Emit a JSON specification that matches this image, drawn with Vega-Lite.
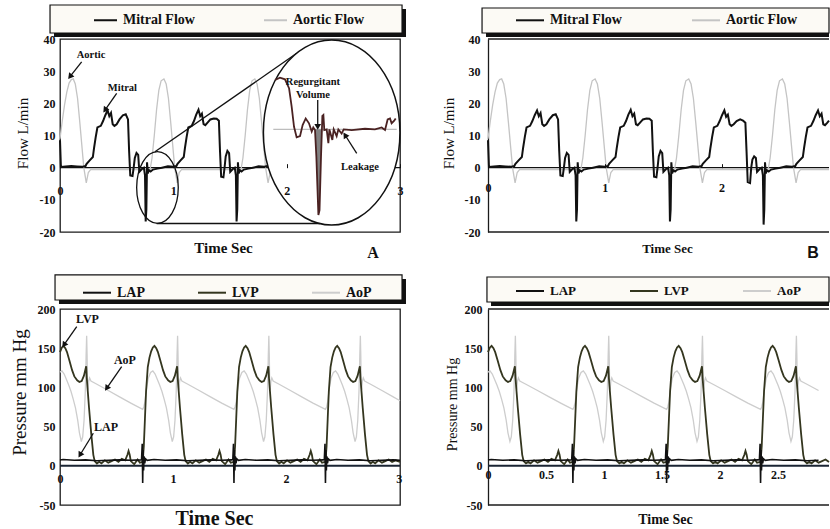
{
"$schema": "https://vega.github.io/schema/vega-lite/v6.json",
"autosize": {"type": "none"},
"padding": {"left": 60, "top": 39, "right": 770, "bottom": 490},
"background": "white",
"columns": 2,
"spacing": {"row": 77, "column": 88},
"bounds": "flush",
"resolve": {"scale": {"color": "independent"}, "legend": {"color": "independent"}},
"datasets": {
"one": [{}],
"flow": [
{"s":"Aortic Flow","t":0,"v":9},{"s":"Aortic Flow","t":0.02,"v":14.5},{"s":"Aortic Flow","t":0.04,"v":19.5},{"s":"Aortic Flow","t":0.06,"v":23.5},{"s":"Aortic Flow","t":0.08,"v":26.3},{"s":"Aortic Flow","t":0.1,"v":27.4},{"s":"Aortic Flow","t":0.117,"v":27.6},{"s":"Aortic Flow","t":0.135,"v":26},{"s":"Aortic Flow","t":0.155,"v":21.5},{"s":"Aortic Flow","t":0.175,"v":14},{"s":"Aortic Flow","t":0.195,"v":6},{"s":"Aortic Flow","t":0.21,"v":0},{"s":"Aortic Flow","t":0.232,"v":-4.7},{"s":"Aortic Flow","t":0.25,"v":-1.5},{"s":"Aortic Flow","t":0.27,"v":-0.6},{"s":"Aortic Flow","t":0.795,"v":-0.6},
{"s":"Aortic Flow","t":0.812,"v":3},{"s":"Aortic Flow","t":0.832,"v":10},{"s":"Aortic Flow","t":0.852,"v":18},{"s":"Aortic Flow","t":0.872,"v":24},{"s":"Aortic Flow","t":0.892,"v":27},{"s":"Aortic Flow","t":0.917,"v":27.6},{"s":"Aortic Flow","t":0.937,"v":26},{"s":"Aortic Flow","t":0.957,"v":21.5},{"s":"Aortic Flow","t":0.977,"v":14},{"s":"Aortic Flow","t":0.997,"v":6},{"s":"Aortic Flow","t":1.012,"v":0},{"s":"Aortic Flow","t":1.034,"v":-4.7},{"s":"Aortic Flow","t":1.052,"v":-1.5},{"s":"Aortic Flow","t":1.072,"v":-0.6},{"s":"Aortic Flow","t":1.597,"v":-0.6},
{"s":"Aortic Flow","t":1.614,"v":3},{"s":"Aortic Flow","t":1.634,"v":10},{"s":"Aortic Flow","t":1.654,"v":18},{"s":"Aortic Flow","t":1.674,"v":24},{"s":"Aortic Flow","t":1.694,"v":27},{"s":"Aortic Flow","t":1.719,"v":27.6},{"s":"Aortic Flow","t":1.739,"v":26},{"s":"Aortic Flow","t":1.759,"v":21.5},{"s":"Aortic Flow","t":1.779,"v":14},{"s":"Aortic Flow","t":1.799,"v":6},{"s":"Aortic Flow","t":1.814,"v":0},{"s":"Aortic Flow","t":1.836,"v":-4.7},{"s":"Aortic Flow","t":1.854,"v":-1.5},{"s":"Aortic Flow","t":1.874,"v":-0.6},{"s":"Aortic Flow","t":2.399,"v":-0.6},
{"s":"Aortic Flow","t":2.416,"v":3},{"s":"Aortic Flow","t":2.436,"v":10},{"s":"Aortic Flow","t":2.456,"v":18},{"s":"Aortic Flow","t":2.476,"v":24},{"s":"Aortic Flow","t":2.496,"v":27},{"s":"Aortic Flow","t":2.521,"v":27.6},{"s":"Aortic Flow","t":2.541,"v":26},{"s":"Aortic Flow","t":2.561,"v":21.5},{"s":"Aortic Flow","t":2.581,"v":14},{"s":"Aortic Flow","t":2.601,"v":6},{"s":"Aortic Flow","t":2.616,"v":0},{"s":"Aortic Flow","t":2.638,"v":-4.7},{"s":"Aortic Flow","t":2.656,"v":-1.5},{"s":"Aortic Flow","t":2.676,"v":-0.6},{"s":"Aortic Flow","t":2.92,"v":-0.6},
{"s":"Mitral Flow","t":0,"v":8.5},{"s":"Mitral Flow","t":0.008,"v":0.2},{"s":"Mitral Flow","t":0.05,"v":0.4},{"s":"Mitral Flow","t":0.1,"v":0.5},{"s":"Mitral Flow","t":0.15,"v":0.4},{"s":"Mitral Flow","t":0.2,"v":0.3},{"s":"Mitral Flow","t":0.225,"v":0.5},{"s":"Mitral Flow","t":0.235,"v":1.2},{"s":"Mitral Flow","t":0.26,"v":2.2},{"s":"Mitral Flow","t":0.29,"v":3.3},{"s":"Mitral Flow","t":0.3,"v":6},{"s":"Mitral Flow","t":0.315,"v":9.5},{"s":"Mitral Flow","t":0.33,"v":12.5},{"s":"Mitral Flow","t":0.36,"v":13},{"s":"Mitral Flow","t":0.38,"v":14.5},{"s":"Mitral Flow","t":0.4,"v":16.3},{"s":"Mitral Flow","t":0.42,"v":17.8},{"s":"Mitral Flow","t":0.435,"v":16},{"s":"Mitral Flow","t":0.45,"v":17},{"s":"Mitral Flow","t":0.465,"v":13.5},{"s":"Mitral Flow","t":0.48,"v":13},{"s":"Mitral Flow","t":0.5,"v":13.5},{"s":"Mitral Flow","t":0.525,"v":15},{"s":"Mitral Flow","t":0.555,"v":16.3},{"s":"Mitral Flow","t":0.58,"v":16.6},{"s":"Mitral Flow","t":0.6,"v":15},{"s":"Mitral Flow","t":0.61,"v":5},{"s":"Mitral Flow","t":0.62,"v":-2.4},{"s":"Mitral Flow","t":0.64,"v":-2.6},{"s":"Mitral Flow","t":0.65,"v":0},{"s":"Mitral Flow","t":0.66,"v":3},{"s":"Mitral Flow","t":0.675,"v":4.6},{"s":"Mitral Flow","t":0.69,"v":4},{"s":"Mitral Flow","t":0.7,"v":-1.3},{"s":"Mitral Flow","t":0.72,"v":-0.5},{"s":"Mitral Flow","t":0.74,"v":0},{"s":"Mitral Flow","t":0.75,"v":-2.4},{"s":"Mitral Flow","t":0.756,"v":-16.7},{"s":"Mitral Flow","t":0.762,"v":-13},{"s":"Mitral Flow","t":0.768,"v":1.7},{"s":"Mitral Flow","t":0.775,"v":-1.8},{"s":"Mitral Flow","t":0.785,"v":-0.8},{"s":"Mitral Flow","t":0.8,"v":-1.2},{"s":"Mitral Flow","t":0.82,"v":-0.6},{"s":"Mitral Flow","t":0.86,"v":-0.3},{"s":"Mitral Flow","t":0.9,"v":0},{"s":"Mitral Flow","t":0.952,"v":0.4},{"s":"Mitral Flow","t":1.002,"v":0.3},
{"s":"Mitral Flow","t":1.027,"v":0.5},{"s":"Mitral Flow","t":1.037,"v":1.2},{"s":"Mitral Flow","t":1.062,"v":2.2},{"s":"Mitral Flow","t":1.092,"v":3.3},{"s":"Mitral Flow","t":1.102,"v":6},{"s":"Mitral Flow","t":1.117,"v":9.5},{"s":"Mitral Flow","t":1.132,"v":12.5},{"s":"Mitral Flow","t":1.162,"v":13},{"s":"Mitral Flow","t":1.182,"v":14.5},{"s":"Mitral Flow","t":1.202,"v":16.5},{"s":"Mitral Flow","t":1.222,"v":18},{"s":"Mitral Flow","t":1.237,"v":16},{"s":"Mitral Flow","t":1.252,"v":16.8},{"s":"Mitral Flow","t":1.267,"v":13.5},{"s":"Mitral Flow","t":1.282,"v":13.2},{"s":"Mitral Flow","t":1.302,"v":14},{"s":"Mitral Flow","t":1.327,"v":15},{"s":"Mitral Flow","t":1.357,"v":15.3},{"s":"Mitral Flow","t":1.382,"v":15.2},{"s":"Mitral Flow","t":1.402,"v":14.6},{"s":"Mitral Flow","t":1.412,"v":5},{"s":"Mitral Flow","t":1.422,"v":-2.8},{"s":"Mitral Flow","t":1.442,"v":-3},{"s":"Mitral Flow","t":1.452,"v":0},{"s":"Mitral Flow","t":1.462,"v":3.5},{"s":"Mitral Flow","t":1.477,"v":5.2},{"s":"Mitral Flow","t":1.492,"v":4.5},{"s":"Mitral Flow","t":1.502,"v":-1.3},{"s":"Mitral Flow","t":1.522,"v":-0.5},{"s":"Mitral Flow","t":1.542,"v":0},{"s":"Mitral Flow","t":1.552,"v":-2.4},{"s":"Mitral Flow","t":1.558,"v":-16.7},{"s":"Mitral Flow","t":1.564,"v":-13},{"s":"Mitral Flow","t":1.57,"v":1.7},{"s":"Mitral Flow","t":1.577,"v":-1.8},{"s":"Mitral Flow","t":1.587,"v":-0.8},{"s":"Mitral Flow","t":1.602,"v":-1.2},{"s":"Mitral Flow","t":1.622,"v":-0.6},{"s":"Mitral Flow","t":1.662,"v":-0.3},{"s":"Mitral Flow","t":1.702,"v":0},{"s":"Mitral Flow","t":1.752,"v":0.4},{"s":"Mitral Flow","t":1.802,"v":0.3},
{"s":"Mitral Flow","t":1.829,"v":0.5},{"s":"Mitral Flow","t":1.839,"v":1.2},{"s":"Mitral Flow","t":1.864,"v":2.2},{"s":"Mitral Flow","t":1.894,"v":3.3},{"s":"Mitral Flow","t":1.904,"v":6},{"s":"Mitral Flow","t":1.919,"v":9.5},{"s":"Mitral Flow","t":1.934,"v":12.5},{"s":"Mitral Flow","t":1.964,"v":13},{"s":"Mitral Flow","t":1.984,"v":14.5},{"s":"Mitral Flow","t":2.004,"v":16.3},{"s":"Mitral Flow","t":2.024,"v":17.8},{"s":"Mitral Flow","t":2.039,"v":15.8},{"s":"Mitral Flow","t":2.054,"v":16.5},{"s":"Mitral Flow","t":2.069,"v":13.5},{"s":"Mitral Flow","t":2.084,"v":13},{"s":"Mitral Flow","t":2.104,"v":13.5},{"s":"Mitral Flow","t":2.129,"v":14.5},{"s":"Mitral Flow","t":2.159,"v":15},{"s":"Mitral Flow","t":2.184,"v":14.6},{"s":"Mitral Flow","t":2.204,"v":14},{"s":"Mitral Flow","t":2.214,"v":5},{"s":"Mitral Flow","t":2.224,"v":-4.5},{"s":"Mitral Flow","t":2.244,"v":-4.8},{"s":"Mitral Flow","t":2.254,"v":0},{"s":"Mitral Flow","t":2.264,"v":2.5},{"s":"Mitral Flow","t":2.279,"v":3.5},{"s":"Mitral Flow","t":2.294,"v":3},{"s":"Mitral Flow","t":2.304,"v":-1.3},{"s":"Mitral Flow","t":2.324,"v":-0.5},{"s":"Mitral Flow","t":2.344,"v":0},{"s":"Mitral Flow","t":2.354,"v":-2.4},{"s":"Mitral Flow","t":2.36,"v":-17.7},{"s":"Mitral Flow","t":2.366,"v":-13},{"s":"Mitral Flow","t":2.372,"v":1.7},{"s":"Mitral Flow","t":2.379,"v":-1.8},{"s":"Mitral Flow","t":2.389,"v":-0.8},{"s":"Mitral Flow","t":2.404,"v":-1.2},{"s":"Mitral Flow","t":2.424,"v":-0.6},{"s":"Mitral Flow","t":2.464,"v":-0.3},{"s":"Mitral Flow","t":2.504,"v":0},{"s":"Mitral Flow","t":2.554,"v":0.4},{"s":"Mitral Flow","t":2.604,"v":0.3},
{"s":"Mitral Flow","t":2.631,"v":0.5},{"s":"Mitral Flow","t":2.641,"v":1.2},{"s":"Mitral Flow","t":2.666,"v":2.2},{"s":"Mitral Flow","t":2.696,"v":3.3},{"s":"Mitral Flow","t":2.706,"v":6},{"s":"Mitral Flow","t":2.721,"v":9.5},{"s":"Mitral Flow","t":2.736,"v":12.5},{"s":"Mitral Flow","t":2.766,"v":13},{"s":"Mitral Flow","t":2.786,"v":14.5},{"s":"Mitral Flow","t":2.806,"v":16.3},{"s":"Mitral Flow","t":2.826,"v":17.8},{"s":"Mitral Flow","t":2.841,"v":16},{"s":"Mitral Flow","t":2.856,"v":16.8},{"s":"Mitral Flow","t":2.871,"v":13.5},{"s":"Mitral Flow","t":2.886,"v":13.2},{"s":"Mitral Flow","t":2.906,"v":14},{"s":"Mitral Flow","t":2.92,"v":14.6}
],
"pressure": [
{"s":"AoP","t":0,"v":119.5},{"s":"AoP","t":0.017,"v":121},{"s":"AoP","t":0.037,"v":117},{"s":"AoP","t":0.057,"v":110},{"s":"AoP","t":0.077,"v":103},{"s":"AoP","t":0.097,"v":95},{"s":"AoP","t":0.117,"v":85},{"s":"AoP","t":0.137,"v":74},{"s":"AoP","t":0.157,"v":58},{"s":"AoP","t":0.172,"v":42},{"s":"AoP","t":0.189,"v":31},{"s":"AoP","t":0.201,"v":37},{"s":"AoP","t":0.213,"v":58},{"s":"AoP","t":0.224,"v":95},{"s":"AoP","t":0.231,"v":140},{"s":"AoP","t":0.236,"v":166},{"s":"AoP","t":0.24,"v":140},{"s":"AoP","t":0.244,"v":100},{"s":"AoP","t":0.248,"v":97},{"s":"AoP","t":0.254,"v":108},{"s":"AoP","t":0.262,"v":112},{"s":"AoP","t":0.274,"v":108},{"s":"AoP","t":0.327,"v":104},{"s":"AoP","t":0.427,"v":96},{"s":"AoP","t":0.527,"v":88},{"s":"AoP","t":0.627,"v":80},
{"s":"AoP","t":0.732,"v":72},{"s":"AoP","t":0.742,"v":75},{"s":"AoP","t":0.752,"v":82},{"s":"AoP","t":0.767,"v":100},{"s":"AoP","t":0.782,"v":112},{"s":"AoP","t":0.802,"v":119},{"s":"AoP","t":0.822,"v":121},{"s":"AoP","t":0.842,"v":117},{"s":"AoP","t":0.862,"v":110},{"s":"AoP","t":0.882,"v":103},{"s":"AoP","t":0.902,"v":95},{"s":"AoP","t":0.922,"v":85},{"s":"AoP","t":0.942,"v":74},{"s":"AoP","t":0.962,"v":58},{"s":"AoP","t":0.977,"v":42},{"s":"AoP","t":0.994,"v":31},{"s":"AoP","t":1.006,"v":37},{"s":"AoP","t":1.018,"v":58},{"s":"AoP","t":1.029,"v":95},{"s":"AoP","t":1.036,"v":140},{"s":"AoP","t":1.041,"v":166},{"s":"AoP","t":1.045,"v":140},{"s":"AoP","t":1.049,"v":100},{"s":"AoP","t":1.053,"v":97},{"s":"AoP","t":1.059,"v":108},{"s":"AoP","t":1.067,"v":112},{"s":"AoP","t":1.079,"v":108},{"s":"AoP","t":1.132,"v":104},{"s":"AoP","t":1.232,"v":96},{"s":"AoP","t":1.332,"v":88},{"s":"AoP","t":1.432,"v":80},
{"s":"AoP","t":1.54,"v":72},{"s":"AoP","t":1.55,"v":75},{"s":"AoP","t":1.56,"v":82},{"s":"AoP","t":1.575,"v":100},{"s":"AoP","t":1.59,"v":112},{"s":"AoP","t":1.61,"v":119},{"s":"AoP","t":1.63,"v":121},{"s":"AoP","t":1.65,"v":117},{"s":"AoP","t":1.67,"v":110},{"s":"AoP","t":1.69,"v":103},{"s":"AoP","t":1.71,"v":95},{"s":"AoP","t":1.73,"v":85},{"s":"AoP","t":1.75,"v":74},{"s":"AoP","t":1.77,"v":58},{"s":"AoP","t":1.785,"v":42},{"s":"AoP","t":1.802,"v":31},{"s":"AoP","t":1.814,"v":37},{"s":"AoP","t":1.826,"v":58},{"s":"AoP","t":1.837,"v":95},{"s":"AoP","t":1.844,"v":140},{"s":"AoP","t":1.849,"v":166},{"s":"AoP","t":1.853,"v":140},{"s":"AoP","t":1.857,"v":100},{"s":"AoP","t":1.861,"v":97},{"s":"AoP","t":1.867,"v":108},{"s":"AoP","t":1.875,"v":112},{"s":"AoP","t":1.887,"v":108},{"s":"AoP","t":1.94,"v":104},{"s":"AoP","t":2.04,"v":96},{"s":"AoP","t":2.14,"v":88},{"s":"AoP","t":2.24,"v":80},
{"s":"AoP","t":2.35,"v":72},{"s":"AoP","t":2.36,"v":75},{"s":"AoP","t":2.37,"v":82},{"s":"AoP","t":2.385,"v":100},{"s":"AoP","t":2.4,"v":112},{"s":"AoP","t":2.42,"v":119},{"s":"AoP","t":2.44,"v":121},{"s":"AoP","t":2.46,"v":117},{"s":"AoP","t":2.48,"v":110},{"s":"AoP","t":2.5,"v":103},{"s":"AoP","t":2.52,"v":95},{"s":"AoP","t":2.54,"v":85},{"s":"AoP","t":2.56,"v":74},{"s":"AoP","t":2.58,"v":58},{"s":"AoP","t":2.595,"v":42},{"s":"AoP","t":2.612,"v":31},{"s":"AoP","t":2.624,"v":37},{"s":"AoP","t":2.636,"v":58},{"s":"AoP","t":2.647,"v":95},{"s":"AoP","t":2.654,"v":140},{"s":"AoP","t":2.659,"v":166},{"s":"AoP","t":2.663,"v":140},{"s":"AoP","t":2.667,"v":100},{"s":"AoP","t":2.671,"v":97},{"s":"AoP","t":2.677,"v":108},{"s":"AoP","t":2.685,"v":112},{"s":"AoP","t":2.697,"v":108},{"s":"AoP","t":2.75,"v":104},{"s":"AoP","t":2.85,"v":96},{"s":"AoP","t":2.95,"v":88},{"s":"AoP","t":3.01,"v":83},
{"s":"LVP","t":0,"v":145},{"s":"LVP","t":0.017,"v":151},{"s":"LVP","t":0.031,"v":153},{"s":"LVP","t":0.047,"v":150},{"s":"LVP","t":0.062,"v":145},{"s":"LVP","t":0.082,"v":135},{"s":"LVP","t":0.107,"v":122},{"s":"LVP","t":0.127,"v":114},{"s":"LVP","t":0.152,"v":109},{"s":"LVP","t":0.172,"v":107},{"s":"LVP","t":0.192,"v":108},{"s":"LVP","t":0.212,"v":115},{"s":"LVP","t":0.227,"v":124},{"s":"LVP","t":0.232,"v":127},{"s":"LVP","t":0.237,"v":112},{"s":"LVP","t":0.257,"v":74},{"s":"LVP","t":0.277,"v":40},{"s":"LVP","t":0.295,"v":14},{"s":"LVP","t":0.307,"v":6},{"s":"LVP","t":0.327,"v":3},{"s":"LVP","t":0.347,"v":5},{"s":"LVP","t":0.367,"v":3},{"s":"LVP","t":0.397,"v":7},{"s":"LVP","t":0.427,"v":4},{"s":"LVP","t":0.457,"v":6},{"s":"LVP","t":0.487,"v":8},{"s":"LVP","t":0.517,"v":5},{"s":"LVP","t":0.547,"v":9},{"s":"LVP","t":0.577,"v":7},{"s":"LVP","t":0.597,"v":14},{"s":"LVP","t":0.607,"v":19},{"s":"LVP","t":0.617,"v":14},{"s":"LVP","t":0.627,"v":6},{"s":"LVP","t":0.657,"v":2},{"s":"LVP","t":0.687,"v":8},{"s":"LVP","t":0.707,"v":4},
{"s":"LVP","t":0.732,"v":5},{"s":"LVP","t":0.742,"v":25},{"s":"LVP","t":0.752,"v":60},{"s":"LVP","t":0.762,"v":95},{"s":"LVP","t":0.777,"v":126},{"s":"LVP","t":0.792,"v":138},{"s":"LVP","t":0.807,"v":146},{"s":"LVP","t":0.822,"v":151},{"s":"LVP","t":0.836,"v":153},{"s":"LVP","t":0.852,"v":150},{"s":"LVP","t":0.867,"v":145},{"s":"LVP","t":0.887,"v":135},{"s":"LVP","t":0.912,"v":122},{"s":"LVP","t":0.932,"v":114},{"s":"LVP","t":0.957,"v":109},{"s":"LVP","t":0.977,"v":107},{"s":"LVP","t":0.997,"v":108},{"s":"LVP","t":1.017,"v":115},{"s":"LVP","t":1.032,"v":124},{"s":"LVP","t":1.037,"v":127},{"s":"LVP","t":1.042,"v":112},{"s":"LVP","t":1.062,"v":74},{"s":"LVP","t":1.082,"v":40},{"s":"LVP","t":1.1,"v":14},{"s":"LVP","t":1.112,"v":6},{"s":"LVP","t":1.132,"v":3},{"s":"LVP","t":1.152,"v":5},{"s":"LVP","t":1.172,"v":3},{"s":"LVP","t":1.202,"v":7},{"s":"LVP","t":1.232,"v":4},{"s":"LVP","t":1.262,"v":6},{"s":"LVP","t":1.292,"v":8},{"s":"LVP","t":1.322,"v":5},{"s":"LVP","t":1.352,"v":9},{"s":"LVP","t":1.382,"v":7},{"s":"LVP","t":1.402,"v":14},{"s":"LVP","t":1.412,"v":19},{"s":"LVP","t":1.422,"v":14},{"s":"LVP","t":1.432,"v":6},{"s":"LVP","t":1.462,"v":2},{"s":"LVP","t":1.492,"v":8},{"s":"LVP","t":1.512,"v":4},
{"s":"LVP","t":1.54,"v":5},{"s":"LVP","t":1.55,"v":25},{"s":"LVP","t":1.56,"v":60},{"s":"LVP","t":1.57,"v":95},{"s":"LVP","t":1.585,"v":126},{"s":"LVP","t":1.6,"v":138},{"s":"LVP","t":1.615,"v":146},{"s":"LVP","t":1.63,"v":151},{"s":"LVP","t":1.644,"v":153},{"s":"LVP","t":1.66,"v":150},{"s":"LVP","t":1.675,"v":145},{"s":"LVP","t":1.695,"v":135},{"s":"LVP","t":1.72,"v":122},{"s":"LVP","t":1.74,"v":114},{"s":"LVP","t":1.765,"v":109},{"s":"LVP","t":1.785,"v":107},{"s":"LVP","t":1.805,"v":108},{"s":"LVP","t":1.825,"v":115},{"s":"LVP","t":1.84,"v":124},{"s":"LVP","t":1.845,"v":127},{"s":"LVP","t":1.85,"v":112},{"s":"LVP","t":1.87,"v":74},{"s":"LVP","t":1.89,"v":40},{"s":"LVP","t":1.908,"v":14},{"s":"LVP","t":1.92,"v":6},{"s":"LVP","t":1.94,"v":3},{"s":"LVP","t":1.96,"v":5},{"s":"LVP","t":1.98,"v":3},{"s":"LVP","t":2.01,"v":7},{"s":"LVP","t":2.04,"v":4},{"s":"LVP","t":2.07,"v":6},{"s":"LVP","t":2.1,"v":8},{"s":"LVP","t":2.13,"v":5},{"s":"LVP","t":2.16,"v":9},{"s":"LVP","t":2.19,"v":7},{"s":"LVP","t":2.21,"v":14},{"s":"LVP","t":2.22,"v":19},{"s":"LVP","t":2.23,"v":14},{"s":"LVP","t":2.24,"v":6},{"s":"LVP","t":2.27,"v":2},{"s":"LVP","t":2.3,"v":8},{"s":"LVP","t":2.32,"v":4},
{"s":"LVP","t":2.35,"v":5},{"s":"LVP","t":2.36,"v":25},{"s":"LVP","t":2.37,"v":60},{"s":"LVP","t":2.38,"v":95},{"s":"LVP","t":2.395,"v":126},{"s":"LVP","t":2.41,"v":138},{"s":"LVP","t":2.425,"v":146},{"s":"LVP","t":2.44,"v":151},{"s":"LVP","t":2.454,"v":153},{"s":"LVP","t":2.47,"v":150},{"s":"LVP","t":2.485,"v":145},{"s":"LVP","t":2.505,"v":135},{"s":"LVP","t":2.53,"v":122},{"s":"LVP","t":2.55,"v":114},{"s":"LVP","t":2.575,"v":109},{"s":"LVP","t":2.595,"v":107},{"s":"LVP","t":2.615,"v":108},{"s":"LVP","t":2.635,"v":115},{"s":"LVP","t":2.65,"v":124},{"s":"LVP","t":2.655,"v":127},{"s":"LVP","t":2.66,"v":112},{"s":"LVP","t":2.68,"v":74},{"s":"LVP","t":2.7,"v":40},{"s":"LVP","t":2.718,"v":14},{"s":"LVP","t":2.73,"v":6},{"s":"LVP","t":2.75,"v":3},{"s":"LVP","t":2.77,"v":5},{"s":"LVP","t":2.79,"v":3},{"s":"LVP","t":2.82,"v":7},{"s":"LVP","t":2.85,"v":4},{"s":"LVP","t":2.88,"v":6},{"s":"LVP","t":2.91,"v":8},{"s":"LVP","t":2.94,"v":5},{"s":"LVP","t":2.97,"v":7},{"s":"LVP","t":3.01,"v":5},
{"s":"LAP","t":0,"v":7.5},{"s":"LAP","t":0.027,"v":8},{"s":"LAP","t":0.127,"v":7},{"s":"LAP","t":0.227,"v":7.5},{"s":"LAP","t":0.327,"v":6.5},{"s":"LAP","t":0.427,"v":7},{"s":"LAP","t":0.527,"v":7.5},{"s":"LAP","t":0.627,"v":7},{"s":"LAP","t":0.717,"v":7.5},{"s":"LAP","t":0.722,"v":8},{"s":"LAP","t":0.728,"v":28},{"s":"LAP","t":0.732,"v":-22},{"s":"LAP","t":0.736,"v":20},{"s":"LAP","t":0.74,"v":-6},{"s":"LAP","t":0.744,"v":12},{"s":"LAP","t":0.75,"v":3},{"s":"LAP","t":0.757,"v":9},{"s":"LAP","t":0.772,"v":7},{"s":"LAP","t":0.832,"v":8},{"s":"LAP","t":0.932,"v":7},{"s":"LAP","t":1.032,"v":7.5},{"s":"LAP","t":1.132,"v":6.5},{"s":"LAP","t":1.232,"v":7},{"s":"LAP","t":1.332,"v":7.5},{"s":"LAP","t":1.432,"v":7},{"s":"LAP","t":1.52,"v":7.5},{"s":"LAP","t":1.53,"v":8},{"s":"LAP","t":1.536,"v":28},{"s":"LAP","t":1.54,"v":-22},{"s":"LAP","t":1.544,"v":20},{"s":"LAP","t":1.548,"v":-6},{"s":"LAP","t":1.552,"v":12},{"s":"LAP","t":1.558,"v":3},{"s":"LAP","t":1.565,"v":9},{"s":"LAP","t":1.58,"v":7},{"s":"LAP","t":1.64,"v":8},{"s":"LAP","t":1.74,"v":7},{"s":"LAP","t":1.84,"v":7.5},{"s":"LAP","t":1.94,"v":6.5},{"s":"LAP","t":2.04,"v":7},{"s":"LAP","t":2.14,"v":7.5},{"s":"LAP","t":2.24,"v":7},{"s":"LAP","t":2.33,"v":7.5},{"s":"LAP","t":2.34,"v":8},{"s":"LAP","t":2.346,"v":28},{"s":"LAP","t":2.35,"v":-22},{"s":"LAP","t":2.354,"v":20},{"s":"LAP","t":2.358,"v":-6},{"s":"LAP","t":2.362,"v":12},{"s":"LAP","t":2.368,"v":3},{"s":"LAP","t":2.375,"v":9},{"s":"LAP","t":2.39,"v":7},{"s":"LAP","t":2.45,"v":8},{"s":"LAP","t":2.55,"v":7},{"s":"LAP","t":2.65,"v":7.5},{"s":"LAP","t":2.75,"v":6.5},{"s":"LAP","t":2.85,"v":7},{"s":"LAP","t":2.95,"v":7.5},{"s":"LAP","t":3.01,"v":7}
],
"magA": [
{"t":1.897,"v":27.25},{"t":1.941,"v":27.97},{"t":1.985,"v":27.47},{"t":2.021,"v":24.7},{"t":2.044,"v":18.95},{"t":2.065,"v":12.7},{"t":2.088,"v":9.44},{"t":2.118,"v":9.84},{"t":2.141,"v":13.26},{"t":2.168,"v":15.3},{"t":2.197,"v":13.8},{"t":2.221,"v":11.2},{"t":2.235,"v":12.5},{"t":2.25,"v":11.7},{"t":2.262,"v":3.4},{"t":2.28,"v":-14.7},{"t":2.29,"v":-13.2},{"t":2.303,"v":3.4},{"t":2.315,"v":16.1},{"t":2.324,"v":16.4},{"t":2.332,"v":11.7},{"t":2.353,"v":11.9},{"t":2.368,"v":7.6},{"t":2.377,"v":11.9},{"t":2.403,"v":8.6},{"t":2.415,"v":11.9},{"t":2.441,"v":9.8},{"t":2.456,"v":11.9},{"t":2.485,"v":10.6},{"t":2.503,"v":11.9},{"t":2.574,"v":11.7},{"t":2.691,"v":12.1},{"t":2.779,"v":11.9},{"t":2.838,"v":12.5},{"t":2.868,"v":11.7},{"t":2.891,"v":15},{"t":2.912,"v":15.3},{"t":2.926,"v":13.8},{"t":2.947,"v":14.5},{"t":2.962,"v":15.3}
],
"hatchA": [
{"t":2.252,"v":11.9},{"t":2.262,"v":3.4},{"t":2.28,"v":-14.7},{"t":2.29,"v":-13.2},{"t":2.303,"v":3.4},{"t":2.308,"v":11.9}
],
"connA": [
{"t":0.838,"v":4.96,"t2":2.089,"v2":35.55},{"t":0.853,"v":-17.36,"t2":2.294,"v2":-17.36}
],
"annA": [
{"t":0.274,"v":35.0,"label":"Aortic"},{"t":0.551,"v":24.9,"label":"Mitral"},{"t":2.232,"v":26.5,"label":"Regurgitant"},{"t":2.232,"v":22.6,"label":"Volume"},{"t":2.647,"v":0.2,"label":"Leakage"}
],
"arrA": [
{"t":0.191,"v":32.9,"t2":0.088,"v2":28.3,"a":218},{"t":0.5,"v":23.1,"t2":0.397,"v2":17.9,"a":215},{"t":2.274,"v":21.0,"t2":2.274,"v2":12.7,"a":180},{"t":2.618,"v":4.46,"t2":2.515,"v2":10.15,"a":327}
],
"annC": [
{"t":0.243,"v":187.2,"label":"LVP"},{"t":0.575,"v":134.9,"label":"AoP"},{"t":0.407,"v":49.5,"label":"LAP"}
],
"arrC": [
{"t":0.148,"v":177.4,"t2":0.035,"v2":154.1,"a":215},{"t":0.546,"v":126.4,"t2":0.413,"v2":98.9,"a":215},{"t":0.295,"v":41.5,"t2":0.177,"v2":13.8,"a":211}
]
},
"concat": [
{
"width": 340, "height": 193,
"layer": [
{"data": {"name": "one"}, "mark": {"type": "rect", "fill": "#111"}, "encoding": {"x": {"datum": -0.053, "type": "quantitative"}, "x2": {"datum": 3.053}, "y": {"datum": 49.33, "type": "quantitative"}, "y2": {"datum": 40.63}}},
{"data": {"name": "one"}, "mark": {"type": "rect", "fill": "#fcfaf5", "stroke": "#111", "strokeWidth": 1.2}, "encoding": {"x": {"datum": -0.088, "type": "quantitative"}, "x2": {"datum": 3.018}, "y": {"datum": 50.57, "type": "quantitative"}, "y2": {"datum": 41.87}}},
{"data": {"name": "one"}, "mark": {"type": "rule", "color": "#111", "strokeWidth": 1.4}, "encoding": {"y": {"datum": 0, "type": "quantitative"}}},
{"data": {"name": "flow"}, "transform": [{"filter": "datum.s == 'Aortic Flow' && datum.t <= 2.1"}],
 "mark": {"type": "line", "strokeWidth": 1.3},
 "encoding": {
  "x": {"field": "t", "type": "quantitative", "scale": {"domain": [0, 3], "nice": false, "zero": false},
        "axis": {"title": "Time Sec", "values": [0, 1, 2, 3], "tickCount": 50, "labelExpr": "'' + datum.value", "labelOverlap": false, "orient": "bottom", "offset": -64.33, "domain": false, "ticks": true, "tickSize": -4, "labelPadding": 21.5, "titleFontSize": 15, "titleFontWeight": "bold", "titleX": 163, "titleY": 85, "titleBaseline": "alphabetic", "titleAlign": "center", "zindex": 1}},
  "y": {"field": "v", "type": "quantitative", "scale": {"domain": [-20, 40], "nice": false, "zero": false},
        "axis": {"title": "Flow  L/min", "values": [-20, -10, 0, 10, 20, 30, 40], "tickCount": 50, "labelExpr": "'' + datum.value", "labelOverlap": false, "domain": false, "ticks": false, "labelPadding": 5, "titleFontSize": 15, "titleFontWeight": "normal", "titleX": -38, "titleY": 94, "titleAngle": -90, "titleBaseline": "middle", "titleAlign": "center"}},
  "color": {"field": "s", "type": "nominal", "scale": {"domain": ["Mitral Flow", "Aortic Flow"], "range": ["#111111", "#c4c4c4"]},
        "legend": {"orient": "none", "legendX": 33, "legendY": -31.5, "direction": "horizontal", "title": null, "symbolType": "stroke", "symbolSize": 529, "symbolStrokeWidth": 2, "labelFontSize": 14, "columnPadding": 65}}
 }},
{"data": {"name": "flow"}, "transform": [{"filter": "datum.s == 'Mitral Flow' && datum.t <= 2.1"}],
 "mark": {"type": "line", "strokeWidth": 2},
 "encoding": {
  "x": {"field": "t", "type": "quantitative"},
  "y": {"field": "v", "type": "quantitative"},
  "color": {"field": "s", "type": "nominal", "scale": {"domain": ["Mitral Flow", "Aortic Flow"], "range": ["#111111", "#c4c4c4"]}, "legend": null}
 }},
{"data": {"name": "one"}, "mark": {"type": "point", "shape": "M0.581,0C0.581,0.5523,0.3209,1,0,1C-0.3209,1,-0.581,0.5523,-0.581,0C-0.581,-0.5523,-0.3209,-1,0,-1C0.3209,-1,0.581,-0.5523,0.581,0Z", "size": 5127, "filled": false, "stroke": "#111", "strokeWidth": 1.3, "opacity": 1},
 "encoding": {"x": {"datum": 0.86, "type": "quantitative"}, "y": {"datum": -6.17, "type": "quantitative"}}},
{"data": {"name": "connA"}, "mark": {"type": "rule", "color": "#111", "strokeWidth": 1.3},
 "encoding": {"x": {"field": "t", "type": "quantitative"}, "y": {"field": "v", "type": "quantitative"}, "x2": {"field": "t2"}, "y2": {"field": "v2"}}},
{"data": {"name": "one"}, "mark": {"type": "point", "shape": "M0.738,0C0.738,0.5523,0.4076,1,0,1C-0.4076,1,-0.738,0.5523,-0.738,0C-0.738,-0.5523,-0.4076,-1,0,-1C0.4076,-1,0.738,-0.5523,0.738,0Z", "size": 34225, "filled": true, "fill": "white", "stroke": "#111", "strokeWidth": 1.5, "opacity": 1},
 "encoding": {"x": {"datum": 2.397, "type": "quantitative"}, "y": {"datum": 10.93, "type": "quantitative"}}},
{"data": {"name": "one"}, "mark": {"type": "rule", "color": "#bdbdbd", "strokeWidth": 1.2},
 "encoding": {"x": {"datum": 1.882, "type": "quantitative"}, "x2": {"datum": 2.971}, "y": {"datum": 11.9, "type": "quantitative"}}},
{"data": {"name": "hatchA"}, "mark": {"type": "area", "fill": "#6b6b6b", "opacity": 0.85},
 "encoding": {"x": {"field": "t", "type": "quantitative"}, "y": {"field": "v", "type": "quantitative"}, "y2": {"datum": 11.9}}},
{"data": {"name": "magA"}, "mark": {"type": "line", "color": "#4a2222", "strokeWidth": 1.8},
 "encoding": {"x": {"field": "t", "type": "quantitative"}, "y": {"field": "v", "type": "quantitative"}}},
{"data": {"name": "arrA"}, "mark": {"type": "rule", "color": "#111", "strokeWidth": 1.3},
 "encoding": {"x": {"field": "t", "type": "quantitative"}, "y": {"field": "v", "type": "quantitative"}, "x2": {"field": "t2"}, "y2": {"field": "v2"}}},
{"data": {"name": "arrA"}, "mark": {"type": "point", "shape": "triangle-up", "size": 45, "filled": true, "color": "#111", "opacity": 1},
 "encoding": {"x": {"field": "t2", "type": "quantitative"}, "y": {"field": "v2", "type": "quantitative"}, "angle": {"field": "a", "type": "quantitative", "scale": null}}},
{"data": {"name": "annA"}, "mark": {"type": "text", "font": "Liberation Serif", "fontWeight": "bold", "fontSize": 10.5, "color": "#111", "align": "center", "baseline": "middle"},
 "encoding": {"x": {"field": "t", "type": "quantitative"}, "y": {"field": "v", "type": "quantitative"}, "text": {"field": "label"}}},
{"data": {"name": "one"}, "mark": {"type": "text", "text": "A", "font": "Liberation Serif", "fontWeight": "bold", "fontSize": 16, "color": "#111", "align": "center", "baseline": "middle"},
 "encoding": {"x": {"datum": 2.762, "type": "quantitative"}, "y": {"datum": -26.5, "type": "quantitative"}}}
]
},
{
"width": 341, "height": 193,
"view": {"stroke": null},
"layer": [
{"data": {"name": "one"}, "mark": {"type": "rect", "fill": "#111"}, "encoding": {"x": {"datum": -0.017, "type": "quantitative"}, "x2": {"datum": 2.92}, "y": {"datum": 48.4, "type": "quantitative"}, "y2": {"datum": 40.63}}},
{"data": {"name": "one"}, "mark": {"type": "rect", "fill": "#fcfaf5", "stroke": "#111", "strokeWidth": 1.2}, "encoding": {"x": {"datum": -0.051, "type": "quantitative"}, "x2": {"datum": 2.92}, "y": {"datum": 49.64, "type": "quantitative"}, "y2": {"datum": 41.87}}},
{"data": {"name": "one"}, "mark": {"type": "rule", "color": "#1b1b1b", "strokeWidth": 1.3}, "encoding": {"y": {"datum": 40, "type": "quantitative"}}},
{"data": {"name": "one"}, "mark": {"type": "rule", "color": "#1b1b1b", "strokeWidth": 1.3}, "encoding": {"y": {"datum": -20, "type": "quantitative"}}},
{"data": {"name": "one"}, "mark": {"type": "rule", "color": "#111", "strokeWidth": 1.4}, "encoding": {"y": {"datum": 0, "type": "quantitative"}}},
{"data": {"name": "flow"}, "transform": [{"filter": "datum.s == 'Aortic Flow'"}],
 "mark": {"type": "line", "strokeWidth": 1.3},
 "encoding": {
  "x": {"field": "t", "type": "quantitative", "scale": {"domain": [0, 2.92], "nice": false, "zero": false},
        "axis": {"title": "Time Sec", "values": [0, 1, 2], "tickCount": 50, "labelExpr": "'' + datum.value", "labelOverlap": false, "orient": "bottom", "offset": -64.33, "domain": false, "ticks": true, "tickSize": -4, "labelPadding": 18.5, "titleFontSize": 13, "titleFontWeight": "bold", "titleX": 179, "titleY": 85, "titleBaseline": "alphabetic", "titleAlign": "center", "zindex": 1}},
  "y": {"field": "v", "type": "quantitative", "scale": {"domain": [-20, 40], "nice": false, "zero": false},
        "axis": {"title": "Flow  L/min", "values": [-20, -10, 0, 10, 20, 30, 40], "tickCount": 50, "labelExpr": "'' + datum.value", "labelOverlap": false, "domain": true, "ticks": false, "labelPadding": 8, "titleFontSize": 15, "titleFontWeight": "normal", "titleX": -40, "titleY": 94, "titleAngle": -90, "titleBaseline": "middle", "titleAlign": "center"}},
  "color": {"field": "s", "type": "nominal", "scale": {"domain": ["Mitral Flow", "Aortic Flow"], "range": ["#111111", "#c4c4c4"]},
        "legend": {"orient": "none", "legendX": 27, "legendY": -33.7, "direction": "horizontal", "title": null, "symbolType": "stroke", "symbolSize": 784, "symbolStrokeWidth": 2, "labelFontSize": 14, "columnPadding": 66}}
 }},
{"data": {"name": "flow"}, "transform": [{"filter": "datum.s == 'Mitral Flow'"}],
 "mark": {"type": "line", "strokeWidth": 2},
 "encoding": {
  "x": {"field": "t", "type": "quantitative"},
  "y": {"field": "v", "type": "quantitative"},
  "color": {"field": "s", "type": "nominal", "scale": {"domain": ["Mitral Flow", "Aortic Flow"], "range": ["#111111", "#c4c4c4"]}, "legend": null}
 }},
{"data": {"name": "one"}, "mark": {"type": "text", "text": "B", "font": "Liberation Sans", "fontWeight": "bold", "fontSize": 16, "color": "#111", "align": "center", "baseline": "middle"},
 "encoding": {"x": {"datum": 2.783, "type": "quantitative"}, "y": {"datum": -26.5, "type": "quantitative"}}}
]
},
{
"width": 340, "height": 196,
"layer": [
{"data": {"name": "one"}, "mark": {"type": "rect", "fill": "#111"}, "encoding": {"x": {"datum": -0.009, "type": "quantitative"}, "x2": {"datum": 3.063}, "y": {"datum": 238.3, "type": "quantitative"}, "y2": {"datum": 206.4}}},
{"data": {"name": "one"}, "mark": {"type": "rect", "fill": "#fcfaf5", "stroke": "#111", "strokeWidth": 1.2}, "encoding": {"x": {"datum": -0.044, "type": "quantitative"}, "x2": {"datum": 3.028}, "y": {"datum": 243.4, "type": "quantitative"}, "y2": {"datum": 211.5}}},
{"data": {"name": "one"}, "mark": {"type": "rule", "color": "#1a2433", "strokeWidth": 2}, "encoding": {"y": {"datum": 0, "type": "quantitative"}}},
{"data": {"name": "pressure"}, "transform": [{"filter": "datum.s == 'AoP'"}],
 "mark": {"type": "line", "strokeWidth": 1.3},
 "encoding": {
  "x": {"field": "t", "type": "quantitative", "scale": {"domain": [0, 3.01], "nice": false, "zero": false},
        "axis": {"title": "Time Sec", "values": [0, 1, 2, 3], "tickCount": 50, "labelExpr": "'' + datum.value", "labelOverlap": false, "orient": "bottom", "offset": -39.2, "domain": false, "ticks": false, "labelPadding": 7.5, "titleFontSize": 20, "titleFontWeight": "bold", "titleX": 154, "titleY": 59, "titleBaseline": "alphabetic", "titleAlign": "center", "zindex": 1}},
  "y": {"field": "v", "type": "quantitative", "scale": {"domain": [-50, 200], "nice": false, "zero": false},
        "axis": {"title": "Pressure  mm  Hg", "values": [-50, 0, 50, 100, 150, 200], "tickCount": 50, "labelExpr": "'' + datum.value", "labelOverlap": false, "domain": false, "ticks": false, "labelPadding": 5, "titleFontSize": 19, "titleFontWeight": "normal", "titleX": -41, "titleY": 83, "titleAngle": -90, "titleBaseline": "middle", "titleAlign": "center"}},
  "color": {"field": "s", "type": "nominal", "scale": {"domain": ["LAP", "LVP", "AoP"], "range": ["#111111", "#34361f", "#cdcdcd"]},
        "legend": {"orient": "none", "legendX": 22, "legendY": -31.3, "direction": "horizontal", "title": null, "symbolType": "stroke", "symbolSize": 784, "symbolStrokeWidth": 2, "labelFontSize": 14, "columnPadding": 49}}
 }},
{"data": {"name": "pressure"}, "transform": [{"filter": "datum.s == 'LVP'"}],
 "mark": {"type": "line", "strokeWidth": 1.8},
 "encoding": {
  "x": {"field": "t", "type": "quantitative"},
  "y": {"field": "v", "type": "quantitative"},
  "color": {"field": "s", "type": "nominal", "scale": {"domain": ["LAP", "LVP", "AoP"], "range": ["#111111", "#34361f", "#cdcdcd"]}, "legend": null}
 }},
{"data": {"name": "pressure"}, "transform": [{"filter": "datum.s == 'LAP'"}],
 "mark": {"type": "line", "strokeWidth": 1.6},
 "encoding": {
  "x": {"field": "t", "type": "quantitative"},
  "y": {"field": "v", "type": "quantitative"},
  "color": {"field": "s", "type": "nominal", "scale": {"domain": ["LAP", "LVP", "AoP"], "range": ["#111111", "#34361f", "#cdcdcd"]}, "legend": null}
 }},
{"data": {"name": "arrC"}, "mark": {"type": "rule", "color": "#111", "strokeWidth": 1.3},
 "encoding": {"x": {"field": "t", "type": "quantitative"}, "y": {"field": "v", "type": "quantitative"}, "x2": {"field": "t2"}, "y2": {"field": "v2"}}},
{"data": {"name": "arrC"}, "mark": {"type": "point", "shape": "triangle-up", "size": 45, "filled": true, "color": "#111", "opacity": 1},
 "encoding": {"x": {"field": "t2", "type": "quantitative"}, "y": {"field": "v2", "type": "quantitative"}, "angle": {"field": "a", "type": "quantitative", "scale": null}}},
{"data": {"name": "annC"}, "mark": {"type": "text", "font": "Liberation Serif", "fontWeight": "bold", "fontSize": 12, "color": "#111", "align": "center", "baseline": "middle"},
 "encoding": {"x": {"field": "t", "type": "quantitative"}, "y": {"field": "v", "type": "quantitative"}, "text": {"field": "label"}}}
]
},
{
"width": 341, "height": 196,
"view": {"stroke": null},
"layer": [
{"data": {"name": "one"}, "mark": {"type": "rect", "fill": "#111"}, "encoding": {"x": {"datum": 0.026, "type": "quantitative"}, "x2": {"datum": 2.94}, "y": {"datum": 235.7, "type": "quantitative"}, "y2": {"datum": 203.8}}},
{"data": {"name": "one"}, "mark": {"type": "rect", "fill": "#fcfaf5", "stroke": "#111", "strokeWidth": 1.2}, "encoding": {"x": {"datum": -0.009, "type": "quantitative"}, "x2": {"datum": 2.94}, "y": {"datum": 240.8, "type": "quantitative"}, "y2": {"datum": 208.9}}},
{"data": {"name": "one"}, "mark": {"type": "rule", "color": "#1b1b1b", "strokeWidth": 1.3}, "encoding": {"y": {"datum": 200, "type": "quantitative"}}},
{"data": {"name": "one"}, "mark": {"type": "rule", "color": "#1b1b1b", "strokeWidth": 1.3}, "encoding": {"y": {"datum": -50, "type": "quantitative"}}},
{"data": {"name": "one"}, "mark": {"type": "rule", "color": "#1a2433", "strokeWidth": 2}, "encoding": {"y": {"datum": 0, "type": "quantitative"}}},
{"data": {"name": "pressure"}, "transform": [{"filter": "datum.s == 'AoP' && datum.t <= 2.94"}],
 "mark": {"type": "line", "strokeWidth": 1.3},
 "encoding": {
  "x": {"field": "t", "type": "quantitative", "scale": {"domain": [0, 2.94], "nice": false, "zero": false},
        "axis": {"title": "Time Sec", "values": [0, 0.5, 1, 1.5, 2, 2.5], "tickCount": 50, "labelExpr": "'' + datum.value", "labelOverlap": false, "orient": "bottom", "offset": -39.2, "domain": false, "ticks": false, "labelPadding": 4, "titleFontSize": 14, "titleFontWeight": "bold", "titleX": 177, "titleY": 58, "titleBaseline": "alphabetic", "titleAlign": "center", "zindex": 1}},
  "y": {"field": "v", "type": "quantitative", "scale": {"domain": [-50, 200], "nice": false, "zero": false},
        "axis": {"title": "Pressure  mm Hg", "values": [-50, 0, 50, 100, 150, 200], "tickCount": 50, "labelExpr": "'' + datum.value", "labelOverlap": false, "domain": true, "ticks": false, "labelPadding": 6, "titleFontSize": 14, "titleFontWeight": "normal", "titleX": -36, "titleY": 95, "titleAngle": -90, "titleBaseline": "middle", "titleAlign": "center"}},
  "color": {"field": "s", "type": "nominal", "scale": {"domain": ["LAP", "LVP", "AoP"], "range": ["#111111", "#34361f", "#cdcdcd"]},
        "legend": {"orient": "none", "legendX": 27, "legendY": -33, "direction": "horizontal", "title": null, "symbolType": "stroke", "symbolSize": 784, "symbolStrokeWidth": 2, "labelFontSize": 13, "columnPadding": 50}}
 }},
{"data": {"name": "pressure"}, "transform": [{"filter": "datum.s == 'LVP' && datum.t <= 2.94"}],
 "mark": {"type": "line", "strokeWidth": 1.8},
 "encoding": {
  "x": {"field": "t", "type": "quantitative"},
  "y": {"field": "v", "type": "quantitative"},
  "color": {"field": "s", "type": "nominal", "scale": {"domain": ["LAP", "LVP", "AoP"], "range": ["#111111", "#34361f", "#cdcdcd"]}, "legend": null}
 }},
{"data": {"name": "pressure"}, "transform": [{"filter": "datum.s == 'LAP' && datum.t <= 2.94"}],
 "mark": {"type": "line", "strokeWidth": 1.6},
 "encoding": {
  "x": {"field": "t", "type": "quantitative"},
  "y": {"field": "v", "type": "quantitative"},
  "color": {"field": "s", "type": "nominal", "scale": {"domain": ["LAP", "LVP", "AoP"], "range": ["#111111", "#34361f", "#cdcdcd"]}, "legend": null}
 }}
]
}
],
"config": {
 "font": "Liberation Serif",
 "view": {"stroke": "#1b1b1b", "strokeWidth": 1.3},
 "axis": {"grid": false, "labelFont": "Liberation Serif", "labelFontWeight": "bold", "labelFontSize": 12, "labelColor": "#111", "titleFont": "Liberation Serif", "titleColor": "#111", "tickColor": "#111", "domainColor": "#1b1b1b", "domainWidth": 1.3, "labelOverlap": false, "labelFlush": false},
 "legend": {"labelFont": "Liberation Serif", "labelFontWeight": "bold", "labelColor": "#111", "labelOffset": 5, "padding": 0}
}
}
